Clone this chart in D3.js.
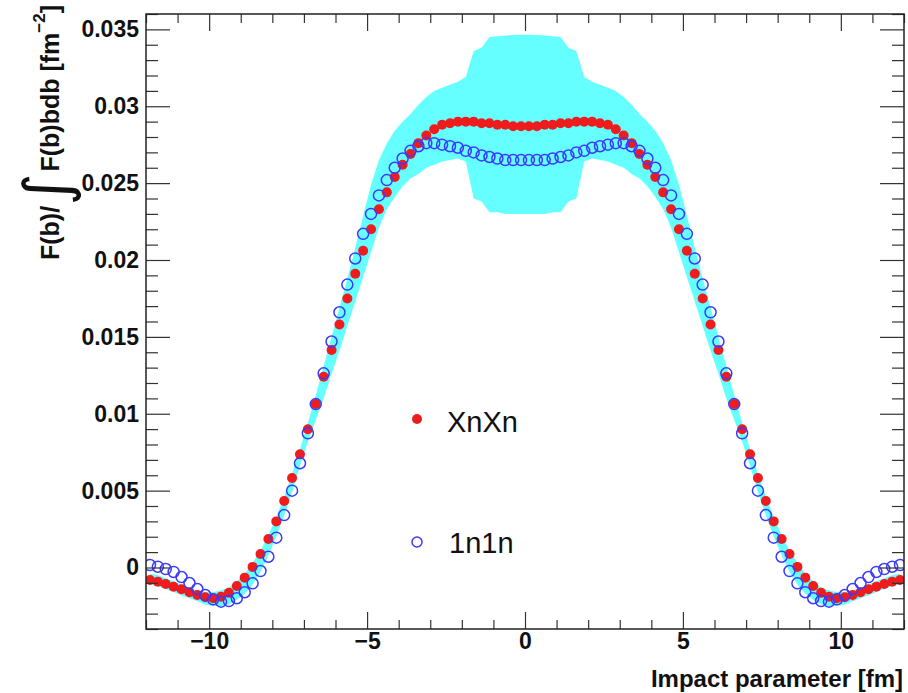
<!DOCTYPE html>
<html>
<head>
<meta charset="utf-8">
<style>
  body { margin: 0; background: #fff; }
  text { font-family: "Liberation Sans", Arial, Helvetica, sans-serif; }
  .axis path { display: none; }
  .axis line { stroke: #333; stroke-width: 1.2px; }
  .axis text { font-size: 23px; font-weight: bold; fill: #111; font-family: "Liberation Sans", Arial, sans-serif; }
</style>
</head>
<body>
<svg id="chart" width="908" height="693"></svg>
<script src="https://d3js.org/d3.v7.min.js"></script>
<script>
// histogram binning of the impact parameter
const binLow = -12, binWidth = 0.25;

// XnXn (red, filled)
const xnxn = [
  -0.00081,-0.00092,-0.00107,-0.00125,-0.00142,-0.00161,-0.00179,-0.00194,-0.00200,-0.00190,-0.00165,-0.00120,
  -0.00066,0.00004,0.00088,0.00185,0.00300,0.00433,0.00582,0.00736,0.00899,0.01063,0.01241,0.01415,
  0.0158,0.0175,0.0191,0.0206,0.0220,0.0233,0.0244,0.0254,0.0262,0.0269,0.0276,0.0281,
  0.0285,0.0288,0.0289,0.0290,0.0290,0.0290,0.0289,0.0289,0.0288,0.0288,0.0287,0.0287,
  0.0287,0.0287,0.0288,0.0288,0.0289,0.0289,0.0290,0.0290,0.0290,0.0289,0.0288,0.0285,
  0.0281,0.0276,0.0269,0.0262,0.0254,0.0244,0.0233,0.0220,0.0206,0.0191,0.0175,0.0158,
  0.01415,0.01241,0.01063,0.00899,0.00736,0.00582,0.00433,0.00300,0.00185,0.00088,0.00004,-0.00066,
  -0.00120,-0.00165,-0.00190,-0.00200,-0.00194,-0.00179,-0.00161,-0.00142,-0.00125,-0.00107,-0.00092,-0.00081
];

// 1n1n (blue, open)
const onon = [
  0.00016,0.00005,-0.00010,-0.00029,-0.00062,-0.00101,-0.00140,-0.00179,-0.00207,-0.00222,-0.00218,-0.00200,
  -0.00161,-0.00103,-0.00023,0.00070,0.00194,0.00341,0.00500,0.00678,0.00873,0.01063,0.01263,0.0147,
  0.0166,0.0184,0.0201,0.0217,0.0230,0.0242,0.0252,0.0260,0.0266,0.0271,0.0274,0.0276,
  0.0276,0.0275,0.0274,0.0273,0.0271,0.0270,0.0268,0.0267,0.0266,0.0265,0.0265,0.0265,
  0.0265,0.0265,0.0265,0.0266,0.0267,0.0268,0.0270,0.0271,0.0273,0.0274,0.0275,0.0276,
  0.0276,0.0274,0.0271,0.0266,0.0260,0.0252,0.0242,0.0230,0.0217,0.0201,0.0184,0.0166,
  0.0147,0.01263,0.01063,0.00873,0.00678,0.00500,0.00341,0.00194,0.00070,-0.00023,-0.00103,-0.00161,
  -0.00200,-0.00218,-0.00222,-0.00207,-0.00179,-0.00140,-0.00101,-0.00062,-0.00029,-0.00010,0.00005,0.00016
];

// uncertainty band (cyan)
const bandHi = [
  -0.0004,-0.0005,-0.0007,-0.0009,-0.0011,-0.0013,-0.0015,-0.0016,-0.0016,-0.0015,-0.0013,-0.0009,
  -0.0004,0.0003,0.0011,0.0021,0.0033,0.0046,0.0061,0.0077,0.0094,0.0112,0.0131,0.0150,
  0.0169,0.0188,0.0208,0.0229,0.0249,0.0265,0.0276,0.0284,0.0290,0.0295,0.0301,0.0306,
  0.0310,0.0312,0.0314,0.0316,0.0319,0.0336,0.0338,0.0345,0.03455,0.0346,0.03463,0.03465,
  0.03465,0.03463,0.0346,0.03455,0.0345,0.0338,0.0336,0.0319,0.0316,0.0314,0.0312,0.0310,
  0.0306,0.0301,0.0295,0.0290,0.0284,0.0276,0.0265,0.0249,0.0229,0.0208,0.0188,0.0169,
  0.0150,0.0131,0.0112,0.0094,0.0077,0.0061,0.0046,0.0033,0.0021,0.0011,0.0003,-0.0004,
  -0.0009,-0.0013,-0.0015,-0.0016,-0.0016,-0.0015,-0.0013,-0.0011,-0.0009,-0.0007,-0.0005,-0.0004
];
const bandLo = [
  -0.0011,-0.0012,-0.0014,-0.0016,-0.0018,-0.0020,-0.0022,-0.0024,-0.0025,-0.0025,-0.0024,-0.0021,
  -0.0017,-0.0011,-0.0003,0.0008,0.0020,0.0034,0.0049,0.0066,0.0082,0.0096,0.0110,0.0126,
  0.0141,0.0157,0.0173,0.0189,0.0205,0.0221,0.0233,0.0241,0.0248,0.0253,0.0256,0.0260,
  0.0262,0.0264,0.0265,0.0266,0.0264,0.0240,0.0238,0.0231,0.0231,0.0230,0.0230,0.0230,
  0.0230,0.0230,0.0230,0.0231,0.0231,0.0238,0.0240,0.0264,0.0266,0.0265,0.0264,0.0262,
  0.0260,0.0256,0.0253,0.0248,0.0241,0.0233,0.0221,0.0205,0.0189,0.0173,0.0157,0.0141,
  0.0126,0.0110,0.0096,0.0082,0.0066,0.0049,0.0034,0.0020,0.0008,-0.0003,-0.0011,-0.0017,
  -0.0021,-0.0024,-0.0025,-0.0025,-0.0024,-0.0022,-0.0020,-0.0018,-0.0016,-0.0014,-0.0012,-0.0011
];

const xTicks = [-10, -5, 0, 5, 10];
const xTickLabels = ["\u221210", "\u22125", "0", "5", "10"];
const yTicks = [0, 0.005, 0.01, 0.015, 0.02, 0.025, 0.03, 0.035];
const yTickLabels = ["0", "0.005", "0.01", "0.015", "0.02", "0.025", "0.03", "0.035"];
const series = ["XnXn", "1n1n"];

// layout
const frameL = 146, frameR = 904, frameT = 14, frameB = 629;
const svg = d3.select("#chart");

const x = d3.scaleLinear().domain([-12, 12]).range([frameL, frameR]);
const y = d3.scaleLinear().domain([-0.004, 0.036]).range([frameB, frameT]);

const rows = xnxn.map((v, i) => ({
  b: binLow + (i + 0.5) * binWidth,
  red: v, blue: onon[i], hi: bandHi[i], lo: bandLo[i]
}));

svg.append("clipPath").attr("id", "plotclip")
  .append("rect").attr("x", frameL).attr("y", frameT)
  .attr("width", frameR - frameL).attr("height", frameB - frameT);

const plot = svg.append("g").attr("clip-path", "url(#plotclip)");

// band
plot.append("path")
  .datum(rows)
  .attr("fill", "#66ffff")
  .attr("d", d3.area().x(d => x(d.b)).y0(d => y(d.lo)).y1(d => y(d.hi)));

// XnXn points
plot.append("g").selectAll("circle")
  .data(rows).enter().append("circle")
  .attr("cx", d => x(d.b)).attr("cy", d => y(d.red))
  .attr("r", 5).attr("fill", "#ee1c1c");

// 1n1n points
plot.append("g").selectAll("circle")
  .data(rows).enter().append("circle")
  .attr("cx", d => x(d.b)).attr("cy", d => y(d.blue))
  .attr("r", 5.5).attr("fill", "none")
  .attr("stroke", "#3a3aff").attr("stroke-width", 1.5);

// axes: ticks inside on all four sides
const xMinor = d3.range(-12, 12.5, 1).filter(v => !xTicks.includes(v));
const yMinor = d3.range(-4, 37, 1).map(v => v / 1000).filter(v => !yTicks.some(t => Math.abs(t - v) < 1e-9));

svg.append("g").attr("class", "axis").attr("transform", `translate(0,${frameB})`)
  .call(d3.axisBottom(x).tickValues(xTicks).tickSize(-17).tickPadding(4)
    .tickFormat((d, i) => xTickLabels[i]));
svg.append("g").attr("class", "axis").attr("transform", `translate(0,${frameB})`)
  .call(d3.axisBottom(x).tickValues(xMinor).tickSize(-9).tickFormat(""));
svg.append("g").attr("class", "axis").attr("transform", `translate(0,${frameT})`)
  .call(d3.axisTop(x).tickValues(xTicks).tickSize(-17).tickFormat(""));
svg.append("g").attr("class", "axis").attr("transform", `translate(0,${frameT})`)
  .call(d3.axisTop(x).tickValues(xMinor).tickSize(-9).tickFormat(""));

svg.append("g").attr("class", "axis").attr("transform", `translate(${frameL},0)`)
  .call(d3.axisLeft(y).tickValues(yTicks).tickSize(-24).tickPadding(7)
    .tickFormat((d, i) => yTickLabels[i]));
svg.append("g").attr("class", "axis").attr("transform", `translate(${frameL},0)`)
  .call(d3.axisLeft(y).tickValues(yMinor).tickSize(-12).tickFormat(""));
svg.append("g").attr("class", "axis").attr("transform", `translate(${frameR},0)`)
  .call(d3.axisRight(y).tickValues(yTicks).tickSize(-24).tickFormat(""));
svg.append("g").attr("class", "axis").attr("transform", `translate(${frameR},0)`)
  .call(d3.axisRight(y).tickValues(yMinor).tickSize(-12).tickFormat(""));

// frame
svg.append("rect")
  .attr("x", frameL).attr("y", frameT).attr("width", frameR - frameL).attr("height", frameB - frameT)
  .attr("fill", "none").attr("stroke", "#222").attr("stroke-width", 1.5);

// axis titles
svg.append("text")
  .attr("x", 903).attr("y", 687).attr("text-anchor", "end")
  .attr("font-size", 24).attr("font-weight", "bold").attr("fill", "#111")
  .text("Impact parameter [fm]");

const yTitle = svg.append("text")
  .attr("transform", "translate(59,260) rotate(-90)")
  .attr("font-size", 25).attr("font-weight", "bold").attr("fill", "#111");
yTitle.append("tspan").text("F(b)/");
yTitle.append("tspan").attr("font-size", 62).attr("font-weight", "normal")
  .attr("font-family", "DejaVu Sans").attr("dy", 9).text("\u222B");
yTitle.append("tspan").attr("dy", -9).attr("dx", 2).text("F(b)bdb [fm");
yTitle.append("tspan").attr("font-size", 17).attr("dy", -14).text("\u22122");
yTitle.append("tspan").attr("dy", 14).text("]");

// legend
const legend = svg.append("g");
legend.append("circle").attr("cx", 417).attr("cy", 419).attr("r", 5).attr("fill", "#ee1c1c");
legend.append("circle").attr("cx", 417).attr("cy", 542).attr("r", 5)
  .attr("fill", "none").attr("stroke", "#3a3aff").attr("stroke-width", 1.5);
legend.append("text").attr("x", 447).attr("y", 432).attr("font-size", 29).attr("fill", "#111").text(series[0]);
legend.append("text").attr("x", 449).attr("y", 553).attr("font-size", 29).attr("fill", "#111").text(series[1]);
</script>
</body>
</html>
